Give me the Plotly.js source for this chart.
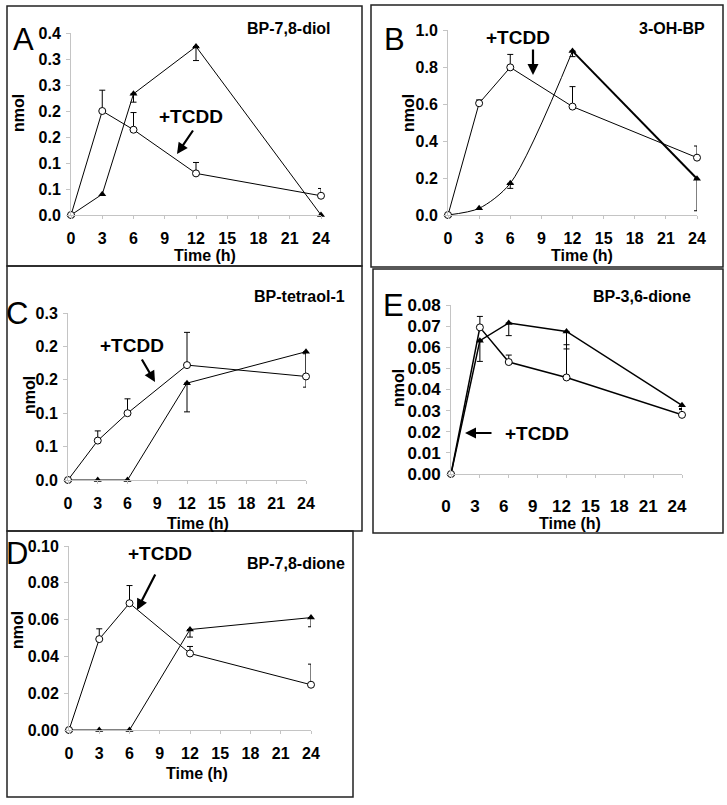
<!DOCTYPE html>
<html>
<head>
<meta charset="utf-8">
<script src="https://cdn.plot.ly/plotly-3.0.1.min.js"></script>
<style>html,body{margin:0;padding:0;background:#fff;}#chart{width:727px;height:805px;}</style>
</head>
<body>
<div id="chart"></div>
<script>
// ---- data ----
const time = [0, 3, 6, 12, 24];
const xTickVals = [0, 3, 6, 9, 12, 15, 18, 21, 24];
const xTickText = ['0', '3', '6', '9', '12', '15', '18', '21', '24'];

// A: BP-7,8-diol  (open circles = +TCDD, filled triangles = control)
const aTcdd = [0, 0.200, 0.164, 0.080, 0.037];
const aTcddErrUp = [null, 0.040, 0.033, 0.021, 0.014];
const aTcddErrDown = [null, null, null, null, null];
const aCtrl = [0, 0.040, 0.233, 0.324, 0];
const aCtrlErrUp = [null, null, null, null, null];
const aCtrlErrDown = [null, null, 0.016, 0.027, null];
const aYTickVals = [0, 0.05, 0.10, 0.15, 0.20, 0.25, 0.30, 0.35];
const aYTickText = ['0.0', '0.1', '0.1', '0.2', '0.2', '0.3', '0.3', '0.4'];

// B: 3-OH-BP
const bTcdd = [0, 0.604, 0.798, 0.586, 0.310];
const bTcddErrUp = [null, 0.018, 0.070, 0.108, 0.063];
const bTcddErrDown = [null, null, null, null, null];
const bCtrl = [0, 0.036, 0.171, 0.886, 0.196];
const bCtrlErrUp = [null, null, null, null, null];
const bCtrlErrDown = [null, null, 0.027, 0.030, 0.173];
const bYTickVals = [0, 0.2, 0.4, 0.6, 0.8, 1.0];
const bYTickText = ['0.0', '0.2', '0.4', '0.6', '0.8', '1.0'];

// C: BP-tetraol-1
const cTcdd = [0, 0.059, 0.100, 0.172, 0.155];
const cTcddErrUp = [null, 0.0145, 0.0215, 0.049, 0.034];
const cTcddErrDown = [null, null, null, null, null];
const cCtrl = [0, 0, 0, 0.145, 0.192];
const cCtrlErrUp = [null, null, null, null, null];
const cCtrlErrDown = [null, null, null, 0.043, 0.053];
const cYTickVals = [0, 0.05, 0.10, 0.15, 0.20, 0.25];
const cYTickText = ['0.0', '0.1', '0.1', '0.2', '0.2', '0.3'];

// D: BP-7,8-dione
const dTcdd = [0, 0.0494, 0.0689, 0.0416, 0.0246];
const dTcddErrUp = [null, 0.0056, 0.0096, 0.0038, 0.0112];
const dTcddErrDown = [null, null, null, null, null];
const dCtrl = [0, 0, 0, 0.0546, 0.0611];
const dCtrlErrUp = [null, null, null, null, null];
const dCtrlErrDown = [null, null, null, 0.0041, 0.0050];
const dYTickVals = [0, 0.02, 0.04, 0.06, 0.08, 0.10];
const dYTickText = ['0.00', '0.02', '0.04', '0.06', '0.08', '0.10'];

// E: BP-3,6-dione
const eTcdd = [0, 0.0694, 0.0530, 0.0457, 0.0280];
const eTcddErrUp = [null, 0.0052, 0.0033, 0.0155, 0.0030];
const eTcddErrDown = [null, null, null, null, null];
const eCtrl = [0, 0.0631, 0.0715, 0.0675, 0.0325];
const eCtrlErrUp = [null, null, null, null, null];
const eCtrlErrDown = [null, 0.0098, 0.0060, 0.0083, 0.0020];
const eYTickVals = [0, 0.01, 0.02, 0.03, 0.04, 0.05, 0.06, 0.07, 0.08];
const eYTickText = ['0.00', '0.01', '0.02', '0.03', '0.04', '0.05', '0.06', '0.07', '0.08'];

const panelNames = ['BP-7,8-diol', '3-OH-BP', 'BP-tetraol-1', 'BP-7,8-dione', 'BP-3,6-dione'];
const panelLetters = ['A', 'B', 'C', 'D', 'E'];

// ---- layout helpers ----
const W = 727, H = 805;
const FONT = 'Liberation Sans, Arial, Helvetica, sans-serif';
const fx = x => x / W;
const fy = y => 1 - y / H;
const bold = arr => arr.map(s => '<b>' + s + '</b>');

function errObj(up, down, w) {
  const a = [], am = [];
  for (let i = 0; i < up.length; i++) {
    if (up[i] == null && down[i] == null) { a.push(NaN); am.push(NaN); }
    else { a.push(up[i] == null ? 0 : up[i]); am.push(down[i] == null ? 0 : down[i]); }
  }
  return {type: 'data', symmetric: false, array: a, arrayminus: am,
          color: '#000', thickness: 1, width: w || 3, visible: true};
}

const traces = [];
function addPanel(idx, tcdd, tUp, tDown, ctrl, cUp, cDown, lw) {
  const sfx = idx === 0 ? '' : String(idx + 1);
  const xa = 'x' + sfx, ya = 'y' + sfx;
  traces.push({x: time, y: ctrl, xaxis: xa, yaxis: ya, type: 'scatter', mode: 'lines+markers',
    line: {color: '#000', width: lw}, cliponaxis: false,
    marker: {symbol: 'triangle-up', size: 7, color: '#000'},
    error_y: errObj(cUp, cDown), showlegend: false});
  traces.push({x: time, y: tcdd, xaxis: xa, yaxis: ya, type: 'scatter', mode: 'lines+markers',
    line: {color: '#000', width: lw}, cliponaxis: false,
    marker: {symbol: 'circle', size: 7, color: '#fff', line: {color: '#000', width: 1}},
    error_y: errObj(tUp, tDown), showlegend: false});
}
addPanel(0, aTcdd, aTcddErrUp, aTcddErrDown, aCtrl, aCtrlErrUp, aCtrlErrDown, 1);
// B: control drawn as smooth rise then heavy fall
traces.push({x: time.slice(0, 4), y: bCtrl.slice(0, 4), xaxis: 'x2', yaxis: 'y2', type: 'scatter', mode: 'lines',
  line: {color: '#000', width: 1, shape: 'spline', smoothing: 0.8}, cliponaxis: false, showlegend: false});
traces.push({x: time.slice(3), y: bCtrl.slice(3), xaxis: 'x2', yaxis: 'y2', type: 'scatter', mode: 'lines',
  line: {color: '#000', width: 2}, cliponaxis: false, showlegend: false});
traces.push({x: time, y: bCtrl, xaxis: 'x2', yaxis: 'y2', type: 'scatter', mode: 'markers', cliponaxis: false,
  marker: {symbol: 'triangle-up', size: 7, color: '#000'}, error_y: errObj(bCtrlErrUp, bCtrlErrDown), showlegend: false});
traces.push({x: time, y: bTcdd, xaxis: 'x2', yaxis: 'y2', type: 'scatter', mode: 'lines+markers',
  line: {color: '#000', width: 1}, cliponaxis: false,
  marker: {symbol: 'circle', size: 7, color: '#fff', line: {color: '#000', width: 1}},
  error_y: errObj(bTcddErrUp, bTcddErrDown), showlegend: false});
addPanel(2, cTcdd, cTcddErrUp, cTcddErrDown, cCtrl, cCtrlErrUp, cCtrlErrDown, 1);
addPanel(3, dTcdd, dTcddErrUp, dTcddErrDown, dCtrl, dCtrlErrUp, dCtrlErrDown, 1);
addPanel(4, eTcdd, eTcddErrUp, eTcddErrDown, eCtrl, eCtrlErrUp, eCtrlErrDown, 1.5);

// plot-area pixel boxes: l (x=0), r (x=24), b (y=0), t (y=top tick)
const boxes = [
  {l: 71, r: 321, b: 215, t: 33, ymax: 0.35, tv: aYTickVals, tt: aYTickText},
  {l: 448, r: 697, b: 215, t: 30, ymax: 1.0, tv: bYTickVals, tt: bYTickText},
  {l: 68, r: 306, b: 480, t: 313, ymax: 0.25, tv: cYTickVals, tt: cYTickText},
  {l: 69, r: 311, b: 730, t: 546, ymax: 0.10, tv: dYTickVals, tt: dYTickText},
  {l: 451, r: 682, b: 474, t: 305, ymax: 0.08, tv: eYTickVals, tt: eYTickText}
];

const layout = {
  width: W, height: H, margin: {l: 0, r: 0, t: 0, b: 0},
  paper_bgcolor: '#fff', plot_bgcolor: 'rgba(0,0,0,0)', showlegend: false,
  font: {family: FONT, color: '#000'},
  annotations: [], shapes: []
};
boxes.forEach((b, i) => {
  const sfx = i === 0 ? '' : String(i + 1);
  const isE = i === 4;
  const tickFont = {family: FONT, size: isE ? 17 : 16, weight: 'bold', color: '#000'};
  layout['xaxis' + sfx] = {
    domain: [fx(b.l), fx(b.r)], range: [0, 24], anchor: 'y' + sfx,
    tickmode: 'array', tickvals: xTickVals, ticktext: bold(xTickText),
    showgrid: false, zeroline: false, showline: true, linecolor: '#c4c4c4', linewidth: 1,
    ticks: 'outside', ticklen: 3, tickcolor: '#c4c4c4', tickfont: tickFont,
    ticklabelstandoff: isE ? 14 : 6, ticklabelshift: isE ? -5 : 0, fixedrange: true
  };
  layout['yaxis' + sfx] = {
    domain: [fy(b.b), fy(b.t)], range: [0, b.ymax], anchor: 'x' + sfx,
    tickmode: 'array', tickvals: b.tv, ticktext: bold(b.tt),
    showgrid: false, zeroline: false, showline: true, linecolor: '#c4c4c4', linewidth: 1,
    ticks: 'outside', ticklen: 4, tickcolor: '#c4c4c4', tickfont: tickFont,
    ticklabelstandoff: 2, fixedrange: true
  };
});

// panel frames
const frames = [
  [7, 6, 362, 266], [371, 5, 723, 267], [7, 266, 362, 531], [7, 531, 353, 797], [373, 269, 723, 533]
];
frames.forEach(f => layout.shapes.push({type: 'rect', xref: 'paper', yref: 'paper',
  x0: fx(f[0]), x1: fx(f[2]), y0: fy(f[3]), y1: fy(f[1]), line: {color: '#222', width: 1.5}}));

function txt(x, y, text, size, opts) {
  layout.annotations.push(Object.assign({xref: 'paper', yref: 'paper', x: fx(x), y: fy(y), text: '<b>' + text + '</b>',
    showarrow: false, xanchor: 'center', yanchor: 'middle',
    font: {family: FONT, size: size, color: '#000', weight: 'bold'}}, opts || {}));
}
// panel letters (regular weight)
const letterPos = [[24, 40], [394, 40], [17, 313], [17, 553], [393, 306]];
letterPos.forEach((p, i) => layout.annotations.push({xref: 'paper', yref: 'paper', x: fx(p[0]), y: fy(p[1]),
  text: panelLetters[i], showarrow: false, xanchor: 'center', yanchor: 'middle',
  font: {family: FONT, size: 31, color: '#000'}}));
// compound names (right aligned)
const namePos = [[333, 28], [707, 28], [347, 297], [347, 563], [693, 297]];
namePos.forEach((p, i) => txt(p[0], p[1], panelNames[i], 16, {xanchor: 'right'}));
// axis titles
const timePos = [[205, 255], [582, 255], [198, 523], [197, 773], [570, 523]];
timePos.forEach(p => txt(p[0], p[1], 'Time (h)', 16));
const nmolPos = [[18, 113], [408, 113], [30, 395], [17, 630], [398, 388]];
nmolPos.forEach(p => txt(p[0], p[1], 'nmol', 16, {textangle: -90}));

// +TCDD labels and arrows
const tcddText = [[191, 117], [518, 37], [132, 345], [160, 553], [537, 433]];
tcddText.forEach(p => txt(p[0], p[1], '+TCDD', 19));
const arrows = [ // [tailX, tailY, headX, headY]
  [194, 129, 177, 154], [533, 48, 533, 75], [141, 358, 155, 382], [156, 573, 137, 610], [493, 433, 465, 433]
];
arrows.forEach(a => layout.annotations.push({xref: 'paper', yref: 'paper', x: fx(a[2]), y: fy(a[3]),
  axref: 'pixel', ayref: 'pixel', ax: a[0] - a[2], ay: a[1] - a[3], text: '', showarrow: true,
  arrowhead: 2, arrowsize: 1, arrowwidth: 2.2, arrowcolor: '#000', standoff: 0, startstandoff: 0}));

Plotly.newPlot('chart', traces, layout, {staticPlot: true, displayModeBar: false});
</script>
</body>
</html>
